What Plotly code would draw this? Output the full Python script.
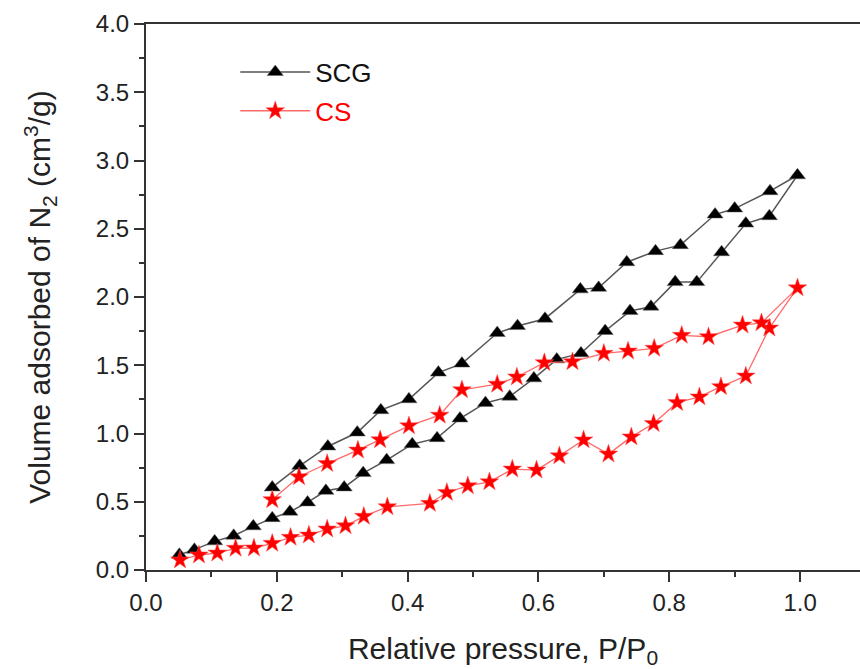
import plotly.graph_objects as go

# SCG: adsorption branch (rising) then desorption branch (falling)
scg_x = [0.051, 0.074, 0.105, 0.134, 0.164, 0.193, 0.220, 0.247, 0.275, 0.303,
         0.332, 0.368, 0.407, 0.445, 0.480, 0.519, 0.556, 0.593, 0.628, 0.665,
         0.702, 0.740, 0.772, 0.809, 0.842, 0.880, 0.917, 0.953, 0.996,
         0.954, 0.900, 0.870, 0.817, 0.779, 0.735, 0.692, 0.664, 0.610, 0.568,
         0.537, 0.483, 0.447, 0.402, 0.359, 0.323, 0.278, 0.235, 0.193]
scg_y = [0.112, 0.149, 0.210, 0.251, 0.320, 0.380, 0.427, 0.495, 0.580, 0.605,
         0.710, 0.805, 0.922, 0.966, 1.110, 1.224, 1.270, 1.404, 1.543, 1.587,
         1.751, 1.897, 1.929, 2.109, 2.109, 2.328, 2.538, 2.592, 2.892,
         2.775, 2.648, 2.604, 2.380, 2.336, 2.255, 2.067, 2.056, 1.841, 1.787,
         1.736, 1.512, 1.446, 1.251, 1.171, 1.007, 0.905, 0.763, 0.605]

# CS: adsorption branch (rising) then desorption branch (falling)
cs_x = [0.052, 0.081, 0.109, 0.137, 0.165, 0.193, 0.221, 0.249, 0.277, 0.305,
        0.333, 0.369, 0.434, 0.460, 0.492, 0.525, 0.560, 0.597, 0.632, 0.669,
        0.707, 0.742, 0.776, 0.812, 0.846, 0.879, 0.917, 0.953, 0.996,
        0.941, 0.912, 0.860, 0.819, 0.777, 0.737, 0.700, 0.652, 0.609, 0.567,
        0.537, 0.483, 0.449, 0.402, 0.358, 0.324, 0.277, 0.234, 0.193]
cs_y = [0.073, 0.110, 0.124, 0.159, 0.161, 0.195, 0.239, 0.256, 0.300, 0.324,
        0.393, 0.463, 0.488, 0.568, 0.617, 0.646, 0.739, 0.732, 0.836, 0.953,
        0.849, 0.975, 1.073, 1.226, 1.268, 1.343, 1.421, 1.772, 2.067,
        1.811, 1.794, 1.709, 1.719, 1.624, 1.604, 1.587, 1.526, 1.519, 1.414,
        1.361, 1.320, 1.134, 1.056, 0.954, 0.878, 0.780, 0.683, 0.515]

x_ticks = [0.0, 0.2, 0.4, 0.6, 0.8, 1.0]
y_ticks = [0.0, 0.5, 1.0, 1.5, 2.0, 2.5, 3.0, 3.5, 4.0]

FONT = "Liberation Sans, Arial, sans-serif"

fig = go.Figure()
fig.add_trace(go.Scatter(
    x=scg_x, y=scg_y, mode="lines+markers", name="SCG",
    line=dict(color="#555555", width=1.5),
    marker=dict(symbol="triangle-up", size=14, color="black",
                line=dict(color="#666666", width=0.5)),
    legendgroup="a"))
fig.add_trace(go.Scatter(
    x=cs_x, y=cs_y, mode="lines+markers",
    name="<span style='color:#ff0000'>CS</span>",
    line=dict(color="#ff6a6a", width=1.3),
    marker=dict(symbol="star", size=14, color="#ff0000",
                line=dict(color="#ff5050", width=0.5)),
    legendgroup="b"))

axis_common = dict(
    showline=True, linecolor="#333333", linewidth=2,
    ticks="outside", tickcolor="#333333", tickwidth=1.5, ticklen=10,
    showgrid=False, zeroline=False,
    tickfont=dict(family=FONT, size=24, color="#222222"),
)

fig.update_layout(
    width=860, height=669,
    margin=dict(l=146, r=0, t=24, b=99),
    plot_bgcolor="white", paper_bgcolor="white",
    font=dict(family=FONT, color="#222222"),
    showlegend=True,
    legend=dict(x=0.125, y=0.955, xanchor="left", yanchor="top",
                bgcolor="rgba(0,0,0,0)", font=dict(family=FONT, size=26, color="#111111"),
                tracegroupgap=2, traceorder="grouped", itemwidth=70),
    xaxis=dict(range=[0, 1.0916], tickvals=x_ticks, tickformat=".1f",
               mirror=True,
               minor=dict(dtick=0.1, tick0=0, ticks="outside", ticklen=5,
                          tickcolor="#333333", tickwidth=1.5),
               title=dict(text="Relative pressure, P/P<sub>0</sub>",
                          font=dict(family=FONT, size=30, color="#222222"),
                          standoff=24),
               **axis_common),
    yaxis=dict(range=[0, 4.0], tickvals=y_ticks, tickformat=".1f",
               mirror=False,
               minor=dict(dtick=0.25, tick0=0, ticks="outside", ticklen=5,
                          tickcolor="#333333", tickwidth=1.5),
               title=dict(text="Volume adsorbed of N<sub>2</sub> (cm<sup>3</sup>/g)",
                          font=dict(family=FONT, size=30, color="#222222"),
                          standoff=36),
               **axis_common),
)

fig.write_html("out.html")
